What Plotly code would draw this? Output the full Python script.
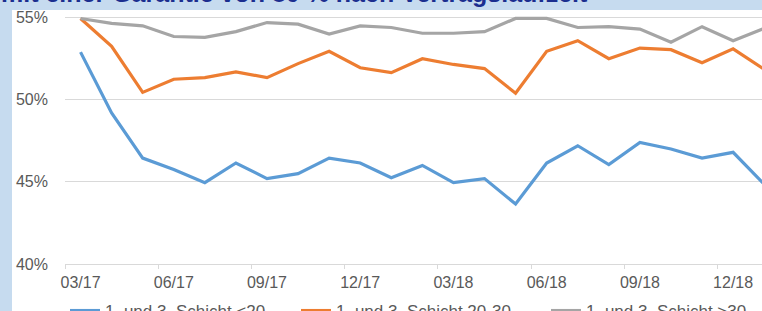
import plotly.graph_objects as go

months = ["03/17","04/17","05/17","06/17","07/17","08/17","09/17","10/17","11/17","12/17",
          "01/18","02/18","03/18","04/18","05/18","06/18","07/18","08/18","09/18","10/18",
          "11/18","12/18","01/19"]
tick_labels = ["03/17","06/17","09/17","12/17","03/18","06/18","09/18","12/18"]

s_lt20 = [52.9, 49.2, 46.45, 45.75, 44.95, 46.15, 45.2, 45.5, 46.45, 46.15,
          45.25, 46.0, 44.95, 45.2, 43.65, 46.15, 47.2, 46.05, 47.4, 47.0,
          46.45, 46.8, 44.85]
s_20_30 = [54.95, 53.25, 50.45, 51.25, 51.35, 51.7, 51.35, 52.2, 52.95, 51.95,
           51.65, 52.5, 52.15, 51.9, 50.4, 52.95, 53.6, 52.5, 53.15, 53.05,
           52.25, 53.1, 51.85]
s_gt30 = [54.95, 54.65, 54.5, 53.85, 53.8, 54.15, 54.7, 54.6, 54.0, 54.5,
          54.4, 54.05, 54.05, 54.15, 54.95, 54.95, 54.4, 54.45, 54.3, 53.5,
          54.45, 53.6, 54.35]

names = ["1. und 3. Schicht <20", "1. und 3. Schicht 20-30", "1. und 3. Schicht >30"]
colors = ["#5B9BD5", "#ED7D31", "#A5A5A5"]
series = [s_lt20, s_20_30, s_gt30]

W, H = 762, 311
ML, MR, MT, MB = 65, 0, 16, 47
PW, PH = W - ML - MR, H - MT - MB

def px_x(px):
    return (px - ML) / PW

def px_y(py):
    return (H - MB - py) / PH

x_idx = list(range(len(months)))

fig = go.Figure()
legends = ["legend", "legend2", "legend3"]
for name, col, ys, lg in zip(names, colors, series, legends):
    fig.add_trace(go.Scatter(
        x=x_idx, y=ys, mode="lines", name=name, legend=lg,
        line=dict(color=col, width=3.2),
        hoverinfo="skip",
    ))

tick_pos = [months.index(t) for t in tick_labels]

legend_common = dict(
    orientation="h", yanchor="middle", xanchor="left",
    xref="container", yref="container",
    font=dict(family="Liberation Sans, Arial", size=17, color="#595959"),
    bgcolor="rgba(0,0,0,0)", borderwidth=0,
)
legend_x = [65, 296, 546]
legend_y = (H - 311) / H

fig.update_layout(
    width=W, height=H,
    margin=dict(l=ML, r=MR, t=MT, b=MB, pad=0),
    paper_bgcolor="#C6DBEF",
    plot_bgcolor="white",
    showlegend=True,
    legend=dict(x=legend_x[0] / W, y=legend_y, **legend_common),
    legend2=dict(x=legend_x[1] / W, y=legend_y, **legend_common),
    legend3=dict(x=legend_x[2] / W, y=legend_y, **legend_common),
    xaxis=dict(
        range=[-0.5, (W - 80) / 31.1],
        tickmode="array", tickvals=tick_pos, ticktext=tick_labels,
        showgrid=False, zeroline=False,
        showline=True, linecolor="#D9D9D9", linewidth=1,
        ticks="", ticklabelstandoff=4,
        tickfont=dict(family="Liberation Sans, Arial", size=16, color="#595959"),
        minor=dict(tick0=-0.5, dtick=3, ticks="outside", ticklen=4,
                   tickcolor="#D9D9D9", tickwidth=1, showgrid=False),
        fixedrange=True,
    ),
    yaxis=dict(
        range=[40, 55.1],
        tickvals=[40, 45, 50, 55], ticktext=["40%", "45%", "50%", "55%"],
        showgrid=True, gridcolor="#D9D9D9", gridwidth=1,
        zeroline=False, showline=False, ticks="",
        ticklabelstandoff=16,
        tickfont=dict(family="Liberation Sans, Arial", size=16, color="#595959"),
        fixedrange=True,
    ),
    shapes=[dict(
        type="rect", xref="paper", yref="paper", layer="below",
        x0=px_x(12), x1=px_x(W + 5), y0=px_y(H + 5), y1=px_y(10),
        fillcolor="white", line=dict(width=0),
    )],
    annotations=[dict(
        text="mit einer Garantie von 80 % nach Vertragslaufzeit",
        xref="paper", yref="paper", x=px_x(-1), y=px_y(-7),
        xanchor="left", yanchor="middle", showarrow=False,
        font=dict(family="Liberation Sans, Arial", size=25, color="#1B2E8F", weight="bold"),
    )],
)

fig.write_html(
    "out.html",
    config={"displayModeBar": False},
    post_script="document.body.style.margin='0';document.body.style.overflow='hidden';",
)
